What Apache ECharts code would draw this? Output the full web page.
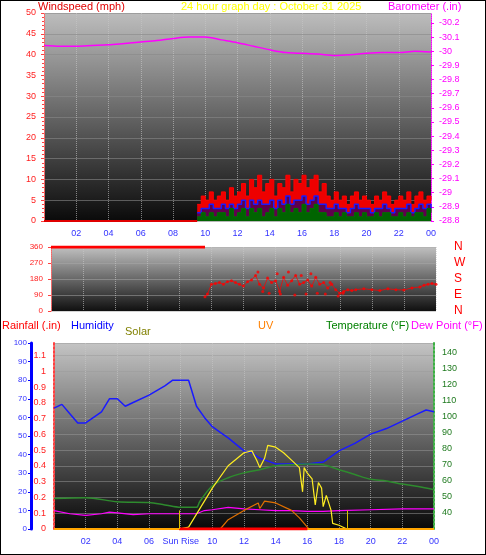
<!DOCTYPE html><html><head><meta charset="utf-8"><script src="https://cdn.jsdelivr.net/npm/echarts@6/dist/echarts.min.js"></script>
<style>html,body{margin:0;padding:0;background:#fff}#c{width:486px;height:555px;box-sizing:border-box;border:1px solid #000}</style></head><body><div id="c"></div><script>
// ---- data ----
const baroT=[0,1,2,3,4,5,6,7,8,9,10,11,12,13,14,15,16,17,18,19,20,21,22,23,24];
const baro=[30.04,30.035,30.035,30.04,30.045,30.055,30.065,30.075,30.09,30.10,30.10,30.08,30.06,30.035,30.01,29.99,29.985,29.98,29.97,29.975,29.985,29.99,29.99,30.0,29.995];
const windStart=9.5, windStep=0.25;
const gust=[4,6,5,7,5,6,7,5,8,6,7,9,6,10,8,11,7,9,10,6,9,8,11,7,10,9,11,8,10,11,7,9,6,5,7,5,6,4,6,7,5,6,5,4,6,5,7,6,4,5,6,5,7,4,6,7,5,6,5];
const avgW=[2,3,3,4,3,3,4,3,4,3,4,5,3,5,4,5,4,4,5,3,5,4,6,4,5,5,6,4,5,6,4,4,3,3,4,3,3,2,3,4,3,3,3,2,3,3,4,3,2,3,3,3,4,2,3,4,3,4,3];
const minW=[1,2,1,2,1,2,2,1,3,1,2,3,1,3,2,3,1,2,3,1,3,2,4,2,3,2,4,2,3,4,2,2,1,1,2,1,2,1,1,2,1,2,1,1,2,1,2,2,1,1,2,1,2,1,2,2,1,3,2];
const dirT=[9.6,9.75,10,10.25,10.5,10.75,11,11.25,11.5,11.75,12,12.25,12.5,12.75,13,13.25,13.5,13.75,14,14.25,14.5,14.75,15,15.25,15.5,15.75,16,16.25,16.5,16.75,17,17.25,17.5,17.75,18,18.25,18.5,18.75,19,19.5,20,20.5,21,21.5,22,22.5,23,23.25,23.5,23.75,24];
const dirV=[80,95,150,155,160,150,165,170,160,150,140,165,175,200,150,130,185,160,170,110,190,145,170,200,150,160,175,140,190,150,160,130,150,120,100,110,120,115,120,125,120,115,125,120,118,130,135,145,150,155,150];
const dirT2=[12.9,13.2,13.6,14.1,14.3,14.8,15.2,15.6,15.9,16.2,16.6,17.1,17.4,17.9,18.2];
const dirV2=[220,110,100,210,95,220,90,200,95,210,100,95,160,85,100];
const hT=[0,0.5,1,1.5,2,3,3.5,4,4.5,5,6,7,7.5,8,8.5,8.6,9,9.5,10,10.5,11,12,12.5,13,14,15,16,17,18,19,20,21,22,23,23.5,24];
const hum=[65,67,62,57,57,63,70,70,66,68,72,77,80,80,80,81,66,60,55,52,49,42,41,38,35,35,35,36,42,46,51,54,58,62,64,63];
const tT=[0,2,4,6,7,8,9,9.2,10,11,12,13,14,15,16,17,18,19,20,21,22,23,24];
const temp=[49,49.5,47,46.5,45,43.5,43.5,47,57,62,65,67,69.5,70,70.5,70,67,64,61,60,58,56.5,54.5];
const dT=[0,1,2,3,3.5,4,5,6,7,8,9,9.5,10,11,12,13,14,15,16,17,18,20,22,24];
const dew=[41.5,39.5,38.5,39.5,40.5,40,39,39.5,39.5,39.5,39.5,41.5,42,43.5,42.5,42,41.5,41.5,41,41,41.5,42,42.5,42.5];
const sT=[7.9,8.5,9,10,11,12,12.5,12.8,13,13.3,13.5,14,14.5,15,15.5,15.7,15.8,16,16.3,16.5,16.7,16.9,17,17.2,17.5,17.6,18,18.5];
const solar=[0,1,8,22,34,41,42,37,33,38,45,44,41,37,33,20,33,30,27,13,25,22,12,18,10,3,2,0];
const uT=[10.5,11,12,12.9,13,13.3,14,15,15.5,16,16.1];
const uv=[0,5,10,14,11,15,14,10,6,1,0];
const rainT=[7.9,16], rain=[0,0];
const sunRise=7.9, sunSet=18.5;
// ---- chart ----
const z=(a,b)=>a.map((v,i)=>[a[i],b[i]]);
const idx=(arr)=>arr.map((v,i)=>[windStart+i*windStep,v]);
const bg=(c1,c2)=>({type:'linear',x:0,y:0,x2:0,y2:1,colorStops:[{offset:0,color:c1},{offset:1,color:c2}]});
const xl=v=>v===0?'':v===24?'00':String(v).padStart(2,'0');
const gl={show:true,lineStyle:{color:'#c8c8c8',type:'dotted',opacity:0.6}};
const F='Liberation Sans';
const xBase=(g,show,fmt)=>({type:'value',gridIndex:g,min:0,max:24,interval:2,axisLine:{show:false},axisTick:{show:false},splitLine:gl,axisLabel:{show:show,color:'#3333ff',fontSize:9,fontFamily:F,formatter:fmt||xl}});
const ch=echarts.init(document.getElementById('c'));
ch.setOption({animation:false,backgroundColor:'#fff',
grid:[{left:43,right:54,top:12,height:208,show:true,borderWidth:0,backgroundColor:bg('#bdbdbd','#0a0a0a')},
 {left:50,right:49,top:246,height:64,show:true,borderWidth:0,backgroundColor:bg('#c0c0c0','#101010')},
 {left:53,right:51,top:342,height:186,show:true,borderWidth:0,backgroundColor:bg('#c4c4c4','#080808')}],
xAxis:[xBase(0,true),xBase(1,false),xBase(2,true,v=>v===8?'Sun Rise':xl(v))],
yAxis:[
 {type:'value',gridIndex:0,min:0,max:50,interval:5,axisLine:{show:true,lineStyle:{color:'#ff6060',type:'dotted'}},axisTick:{show:true,length:3,lineStyle:{color:'#ff4040'}},minorTick:{show:true,splitNumber:5,length:2,lineStyle:{color:'#ff4040'}},axisLabel:{color:'#ff2020',fontSize:9,fontFamily:F},splitLine:{show:true,lineStyle:{color:'#888',opacity:0.6}}},
 {type:'value',gridIndex:0,position:'right',min:28.8,max:30.27,interval:0.1,axisLine:{show:true,lineStyle:{color:'#ff00ff',type:'dotted'}},axisTick:{show:true,length:3,lineStyle:{color:'#ff00ff'}},axisLabel:{color:'#ff00ff',fontSize:9,fontFamily:F,showMaxLabel:false,formatter:v=>'-'+parseFloat(v.toFixed(1))},splitLine:{show:false}},
 {type:'value',gridIndex:1,min:0,max:360,interval:90,axisLine:{show:true,lineStyle:{color:'#ff6060',type:'dotted'}},axisTick:{show:true,length:3,lineStyle:{color:'#ff4040'}},axisLabel:{color:'#ff2020',fontSize:8,fontFamily:F},splitLine:{show:true,lineStyle:{color:'#aaa',opacity:0.5}}},
 {type:'value',gridIndex:2,position:'left',min:0,max:1.18,interval:0.1,axisLine:{show:true,lineStyle:{color:'#ff4040',type:'dotted',width:2}},axisTick:{show:false},axisLabel:{color:'#ff2020',fontSize:9,fontFamily:F,showMaxLabel:false,formatter:v=>String(parseFloat(v.toFixed(1)))},splitLine:{show:true,lineStyle:{color:'#999',opacity:0.5}}},
 {type:'value',gridIndex:2,position:'left',min:0,max:100,interval:10,offset:23,axisLine:{show:true,lineStyle:{color:'#0000ff',width:3}},axisTick:{show:true,length:3,lineStyle:{color:'#0000ff'}},axisLabel:{color:'#3333ff',fontSize:8,fontFamily:F,margin:4},splitLine:{show:false}},
 {type:'value',gridIndex:2,position:'right',min:30,max:146,interval:10,axisLine:{show:true,lineStyle:{color:'#3cb043',type:'dotted',width:2}},axisTick:{show:false},axisLabel:{color:'#1f7a1f',fontSize:9,fontFamily:F,showMinLabel:false,showMaxLabel:false},splitLine:{show:false}},
 {type:'value',gridIndex:2,show:false,min:0,max:100}],
series:[
 {type:'line',xAxisIndex:0,yAxisIndex:0,data:[[0,0],[9.5,0]],symbol:'none',lineStyle:{color:'#e00000',width:2}},
 {type:'line',xAxisIndex:0,yAxisIndex:0,step:'end',data:idx(gust),symbol:'none',lineStyle:{color:'#ff0000',width:1},areaStyle:{color:'#ee0000',opacity:1}},
 {type:'line',xAxisIndex:0,yAxisIndex:0,step:'end',data:idx(avgW),symbol:'none',lineStyle:{color:'#1a1aff',width:1.5},areaStyle:{color:'#000080',opacity:0.6}},
 {type:'line',xAxisIndex:0,yAxisIndex:0,step:'end',data:idx(minW),symbol:'none',lineStyle:{color:'#007000',width:1},areaStyle:{color:'#006400',opacity:1}},
 {type:'line',xAxisIndex:0,yAxisIndex:1,data:z(baroT,baro),symbol:'none',smooth:0.3,lineStyle:{color:'#ff00ff',width:1.5}},
 {type:'line',xAxisIndex:1,yAxisIndex:2,data:[[0,360],[9.6,360]],symbol:'none',lineStyle:{color:'#ff0000',width:3}},
 {type:'scatter',xAxisIndex:1,yAxisIndex:2,data:z(dirT,dirV),symbolSize:3,itemStyle:{color:'#ff0000'}},
 {type:'line',xAxisIndex:1,yAxisIndex:2,data:z(dirT,dirV),symbol:'none',lineStyle:{color:'#ff0000',width:1,opacity:0.7}},
 {type:'scatter',xAxisIndex:1,yAxisIndex:2,data:z(dirT2,dirV2),symbolSize:3,itemStyle:{color:'#ff0000'}},
 {type:'line',xAxisIndex:2,yAxisIndex:4,data:z(hT,hum),symbol:'none',lineStyle:{color:'#1a1aff',width:1.5}},
 {type:'line',xAxisIndex:2,yAxisIndex:5,data:z(tT,temp),symbol:'none',smooth:0.3,lineStyle:{color:'#2e8b2e',width:1.5}},
 {type:'line',xAxisIndex:2,yAxisIndex:5,data:z(dT,dew),symbol:'none',lineStyle:{color:'#ff00ff',width:1.2}},
 {type:'line',xAxisIndex:2,yAxisIndex:6,data:z(sT,solar),symbol:'none',lineStyle:{color:'#ffee22',width:1.2},
  markLine:{symbol:'none',silent:true,label:{show:false},lineStyle:{color:'#d8c000',type:'solid',width:1},data:[[{coord:[sunRise,0]},{coord:[sunRise,10]}],[{coord:[sunSet,0]},{coord:[sunSet,10]}]]}},
 {type:'line',xAxisIndex:2,yAxisIndex:6,data:z(uT,uv),symbol:'none',lineStyle:{color:'#e07000',width:1.2}},
 {type:'line',xAxisIndex:2,yAxisIndex:6,data:[[0,0],[24,0]],symbol:'none',lineStyle:{color:'#ffa500',width:2}},
 {type:'line',xAxisIndex:2,yAxisIndex:3,data:z(rainT,rain),symbol:'none',lineStyle:{color:'#ff0000',width:3}}
],
graphic:[
 {type:'text',left:37,top:0,style:{text:'Windspeed (mph)',fill:'#e00000',font:'11px '+F}},
 {type:'text',left:180,top:0,style:{text:'24 hour graph day : October 31 2025',fill:'#ffff00',font:'11px '+F}},
 {type:'text',left:387,top:0,style:{text:'Barometer (.in)',fill:'#ff00ff',font:'11px '+F}},
 {type:'text',left:453,top:238,style:{text:'N\nW\nS\nE\nN',fill:'#ff0000',font:'12px '+F,lineHeight:16}},
 {type:'text',left:1,top:319,style:{text:'Rainfall (.in)',fill:'#ff0000',font:'11px '+F}},
 {type:'text',left:70,top:319,style:{text:'Humidity',fill:'#0000ff',font:'11px '+F}},
 {type:'text',left:124,top:325,style:{text:'Solar',fill:'#808000',font:'11px '+F}},
 {type:'text',left:257,top:319,style:{text:'UV',fill:'#ff8000',font:'11px '+F}},
 {type:'text',left:325,top:319,style:{text:'Temperature (°F)',fill:'#008000',font:'11px '+F}},
 {type:'text',left:410,top:319,style:{text:'Dew Point (°F)',fill:'#ff00ff',font:'11px '+F}}
]});
</script></body></html>
